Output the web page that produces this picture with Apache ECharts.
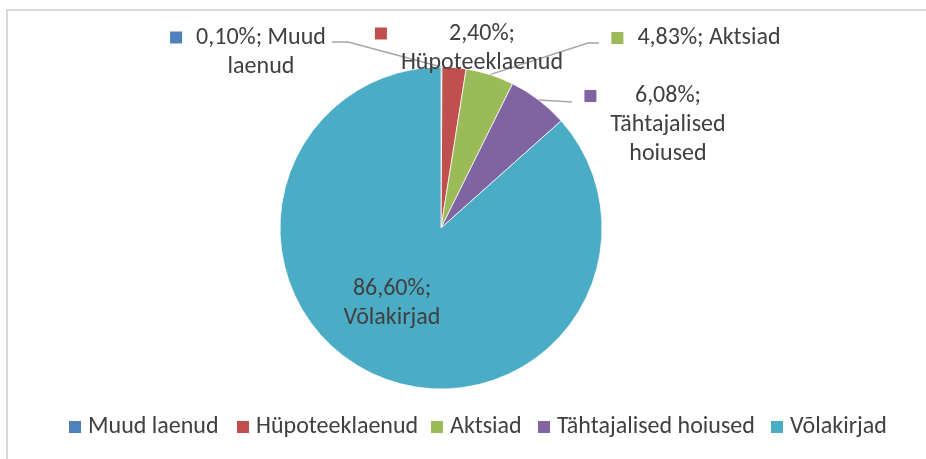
<!DOCTYPE html>
<html>
<head>
<meta charset="utf-8">
<script src="https://cdn.jsdelivr.net/npm/echarts@6/dist/echarts.min.js"></script>
<style>
  html, body { margin: 0; padding: 0; background: #fff; }
  #chart { width: 926px; height: 459px; }
</style>
</head>
<body>
<div id="chart"></div>
<script>
// data
const categories = ['Muud laenud', 'Hüpoteeklaenud', 'Aktsiad', 'Tähtajalised hoiused', 'Võlakirjad'];
const shares = [0.10, 2.40, 4.83, 6.08, 86.60];
const colors = ['#4F81BD', '#C0504D', '#9BBB59', '#8064A2', '#4BACC6'];
// how many words go on each line of a data label
const labelWrap = [[2, 1], [1, 1], [2], [1, 1, 1], [1, 1]];

const font = 'Carlito, Lato, sans-serif';
const fontSize = 24;
const textColor = '#404040';

// where the data labels sit (block centre) and the knee of their leader lines
const labelSpots = [
  { x: 248, y: 52, knee: [[348, 42], [332, 42]] },
  { x: 469, y: 48 },
  { x: 696, y: 38, knee: [[588, 43], [599, 43]] },
  { x: 655, y: 125, knee: [[572, 102]] },
  { x: 392, y: 303 }
];
// left edge of each legend key, as in the picture
const legendLeft = [69, 237, 431, 538, 771];

function labelText(i) {
  const pct = shares[i].toFixed(2).replace('.', ',') + '%;';
  const words = (pct + ' ' + categories[i]).split(' ');
  let k = 0;
  const lines = labelWrap[i].map(n => {
    const l = words.slice(k, k + n).join(' ');
    k += n;
    return l;
  });
  const withKey = i < 4;
  return lines.map((l, j) => {
    let pre = '';
    if (withKey) pre = j === 0 ? '{m' + i + '|}{g|}' : '{s|}';
    return pre + '{t|' + l + '}';
  }).join('\n');
}

const rich = {
  g: { width: 14, align: 'left' },
  s: { width: 26, align: 'left' },
  t: { align: 'center', fontFamily: font, fontSize: fontSize, lineHeight: 29, color: textColor }
};
colors.forEach((c, i) => {
  rich['m' + i] = { width: 12, height: 12, backgroundColor: c, align: 'left' };
});

const pieData = categories.map((name, i) => ({
  name: name,
  value: shares[i],
  label: { position: i === 4 ? 'inside' : 'outside' },
  labelLine: { show: i !== 1 && i !== 4 }
}));

const legends = categories.map((name, i) => ({
  left: legendLeft[i],
  top: 415,
  padding: 0,
  icon: 'path://M0,0H10V10H0Z',
  itemWidth: 12,
  itemHeight: 12,
  itemStyle: { borderWidth: 0 },
  textStyle: { fontFamily: font, fontSize: fontSize, color: textColor, padding: [0, 0, 0, 2] },
  data: [name]
}));

const chart = echarts.init(document.getElementById('chart'));
chart.setOption({
  animation: false,
  color: colors,
  graphic: [{
    type: 'rect',
    shape: { x: 7, y: 10, width: 1000, height: 500 },
    style: { fill: 'none', stroke: '#d9d9d9', lineWidth: 2 },
    silent: true
  }],
  legend: legends,
  series: [{
    type: 'pie',
    center: [441, 228],
    radius: 161,
    startAngle: 90,
    clockwise: true,
    avoidLabelOverlap: false,
    itemStyle: { borderColor: '#fff', borderWidth: 0.75 },
    label: {
      formatter: p => labelText(p.dataIndex),
      rich: rich
    },
    labelLine: { lineStyle: { color: '#a6a6a6', width: 1.5 } },
    labelLayout: function (params) {
      const spot = labelSpots[params.dataIndex];
      const out = { x: spot.x, y: spot.y, align: 'center', verticalAlign: 'middle' };
      if (spot.knee && params.labelLinePoints) {
        out.labelLinePoints = [params.labelLinePoints[0]].concat(spot.knee);
      }
      return out;
    },
    data: pieData
  }]
});
</script>
</body>
</html>
